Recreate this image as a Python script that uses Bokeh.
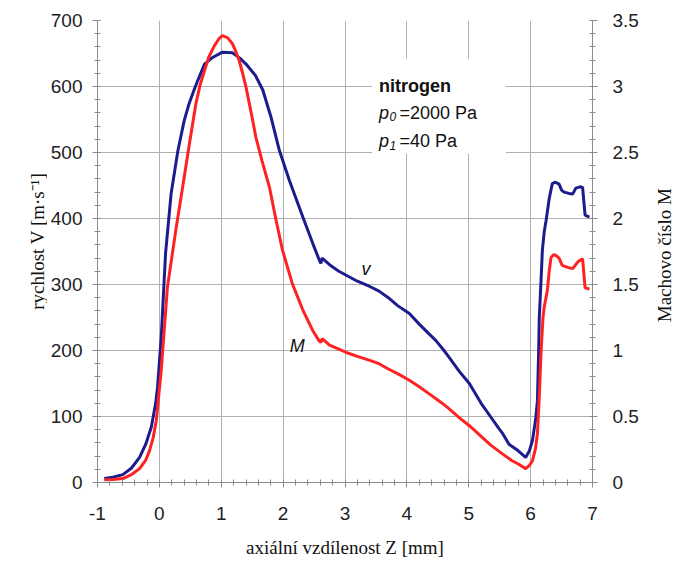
import math
from bokeh.plotting import figure
from bokeh.layouts import row
from bokeh.models import (Range1d, LinearAxis, SingleIntervalTicker, Label,
                          CustomJSTickFormatter)
from bokeh.embed import file_html
from bokeh.resources import INLINE

# ---- data ----
z_v = [-0.89, -0.75, -0.59, -0.45, -0.32, -0.22, -0.13, -0.06, -0.03,
       0.03, 0.10, 0.19, 0.30, 0.40, 0.48, 0.55, 0.62, 0.73, 0.86,
       1.02, 1.18, 1.30, 1.40, 1.55, 1.67, 1.80, 1.94,
       2.10, 2.32, 2.48, 2.58, 2.61, 2.63, 2.75, 2.90,
       3.02, 3.20, 3.40, 3.55, 3.70, 3.85,
       4.04, 4.20, 4.35, 4.47, 4.60, 4.68, 4.85,
       5.01, 5.20, 5.35, 5.50, 5.55, 5.65, 5.80, 5.92, 5.98,
       6.03, 6.08, 6.11, 6.13, 6.14, 6.17, 6.19, 6.22, 6.25, 6.30, 6.35,
       6.40, 6.46, 6.50, 6.54, 6.62, 6.68, 6.73, 6.80, 6.84, 6.88, 6.95]
velocity = [6, 8, 12, 22, 38, 58, 84, 120, 144,
            220, 347, 438, 503, 548, 574, 592, 609, 634, 644,
            652, 651, 643, 634, 617, 595, 555, 503,
            458, 402, 362, 338, 332, 340, 330, 320,
            314, 305, 297, 290, 280, 268,
            256, 240, 226, 215, 200, 190, 168,
            150, 120, 100, 80, 74, 58, 48, 38, 48,
            64, 95, 124, 200, 250, 310, 352, 380, 397, 430, 453,
            455, 452, 443, 440, 438, 437, 446, 448, 447, 405, 402]

z_m = [-0.89, -0.75, -0.59, -0.45, -0.32, -0.22, -0.16, -0.10, -0.05,
       0.03, 0.13, 0.27, 0.38, 0.48, 0.59, 0.66, 0.73, 0.80, 0.89, 0.96,
       1.02, 1.10, 1.18, 1.24, 1.29, 1.34, 1.40, 1.48, 1.56, 1.66, 1.78, 1.88,
       1.99, 2.15, 2.32, 2.48, 2.58, 2.61, 2.63, 2.75, 2.90,
       3.02, 3.20, 3.40, 3.55, 3.70, 3.85,
       4.04, 4.20, 4.35, 4.47, 4.60, 4.68, 4.85,
       5.01, 5.20, 5.35, 5.55, 5.70, 5.80, 5.92, 5.98,
       6.03, 6.08, 6.11, 6.14, 6.17, 6.20, 6.22, 6.27, 6.30, 6.33, 6.37,
       6.41, 6.46, 6.51, 6.60, 6.68, 6.76, 6.84, 6.88, 6.95]
mach = [0.02, 0.022, 0.03, 0.06, 0.105, 0.17, 0.24, 0.34, 0.47,
        0.85, 1.48, 1.925, 2.25, 2.55, 2.87, 3.015, 3.12, 3.225, 3.31, 3.36,
        3.385, 3.37, 3.325, 3.26, 3.195, 3.11, 2.995, 2.81, 2.615, 2.435, 2.235, 2.0,
        1.76, 1.505, 1.305, 1.15, 1.075, 1.06, 1.09, 1.04, 1.01,
        0.985, 0.955, 0.925, 0.9, 0.86, 0.825,
        0.775, 0.725, 0.675, 0.635, 0.59, 0.56, 0.49,
        0.43, 0.35, 0.285, 0.215, 0.165, 0.14, 0.105, 0.13,
        0.165, 0.26, 0.37, 0.65, 1.0, 1.25, 1.33, 1.455, 1.6, 1.705, 1.725,
        1.72, 1.7, 1.645, 1.63, 1.62, 1.67, 1.695, 1.475, 1.465]

x_label = "axiální vzdílenost Z [mm]"
y_label = "rychlost V [m·s⁻¹]"
y2_label = "Machovo číslo M"

BLUE = "#1c1c8e"
RED = "#ff2222"
GRID = "#b0b0b0"
AXIS = "#8c8c8c"
TICKTXT = "#222222"
SANS = "Liberation Sans"
SERIF = "Liberation Serif"

H = 561
LEFT_W, RIGHT_W = 47, 24
MAIN_W = 674 - LEFT_W - RIGHT_W

p = figure(width=MAIN_W, height=H, x_range=Range1d(-1, 7), y_range=Range1d(0, 700),
           output_backend="svg", toolbar_location=None,
           min_border_left=50, min_border_right=58, min_border_top=20,
           min_border_bottom=79)
p.extra_y_ranges = {"mach": Range1d(0, 3.5)}
p.outline_line_color = None
p.background_fill_color = "white"

# text box background
p.quad(left=3.44, right=5.6, bottom=498, top=642, fill_color="white", line_color=None)

p.line(z_v, velocity, line_color=BLUE, line_width=3)
p.line(z_m, mach, line_color=RED, line_width=3, y_range_name="mach")

def style(ax):
    ax.axis_line_color = AXIS
    ax.major_tick_line_color = AXIS
    ax.minor_tick_line_color = AXIS
    ax.major_tick_in = 3
    ax.major_tick_out = 5
    ax.minor_tick_in = 3
    ax.minor_tick_out = 3
    ax.major_label_text_font = SANS
    ax.major_label_text_font_size = "19px"
    ax.major_label_text_color = TICKTXT
    ax.formatter = CustomJSTickFormatter(code="return String(tick);")
    ax.axis_label_text_font = SERIF
    ax.axis_label_text_font_size = "19px"
    ax.axis_label_text_font_style = "normal"
    ax.axis_label_text_color = "#111111"

xa = p.xaxis[0]
xa.ticker = SingleIntervalTicker(interval=1, num_minor_ticks=5)
xa.major_label_standoff = 19
xa.axis_label = x_label
xa.axis_label_standoff = 14
style(xa)

ya = p.yaxis[0]
ya.ticker = SingleIntervalTicker(interval=100, num_minor_ticks=5)
ya.major_label_standoff = 10
style(ya)

ra = LinearAxis(y_range_name="mach", ticker=SingleIntervalTicker(interval=0.5, num_minor_ticks=5))
ra.major_label_standoff = 15
style(ra)
p.add_layout(ra, "right")

p.xgrid.ticker = xa.ticker
p.ygrid.ticker = ya.ticker
p.xgrid.grid_line_color = GRID
p.ygrid.grid_line_color = GRID

# annotations
def lab(x, y, t, size="18px", style_="normal", align="left"):
    p.add_layout(Label(x=x, y=y, text=t, text_font=SANS, text_font_size=size,
                       text_font_style=style_, text_align=align,
                       text_baseline="alphabetic", text_color="#111111"))

lab(3.55, 601, "nitrogen", style_="bold")
lab(3.55, 560, "p", style_="italic")
lab(3.72, 554, "0", size="12px", style_="italic")
lab(3.88, 560, "=2000 Pa")
lab(3.55, 517, "p", style_="italic")
lab(3.72, 511, "1", size="12px", style_="italic")
lab(3.88, 517, "=40 Pa")
lab(3.34, 324, "v", style_="italic", align="center")
lab(2.23, 207, "M", style_="italic", align="center")

# side strips carrying the rotated axis titles (read bottom-to-top)
def strip(w, x, y, text):
    s = figure(width=w, height=H, x_range=Range1d(0, w), y_range=Range1d(0, H),
               output_backend="svg", toolbar_location=None,
               x_axis_location=None, y_axis_location=None,
               min_border=0, min_border_left=0, min_border_right=0,
               min_border_top=0, min_border_bottom=0)
    s.outline_line_color = None
    s.grid.visible = False
    s.add_layout(Label(x=x, y=y, text=text, text_font=SERIF, text_font_size="19px",
                       text_align="center", text_baseline="middle",
                       angle=math.pi / 2, text_color="#111111"))
    return s

left_strip = strip(LEFT_W, 37, H - 268, y_label)
right_strip = strip(RIGHT_W, 14, H - 285, y2_label)

layout = row(left_strip, p, right_strip, spacing=0)
open("out.html", "w").write(file_html(layout, INLINE))
